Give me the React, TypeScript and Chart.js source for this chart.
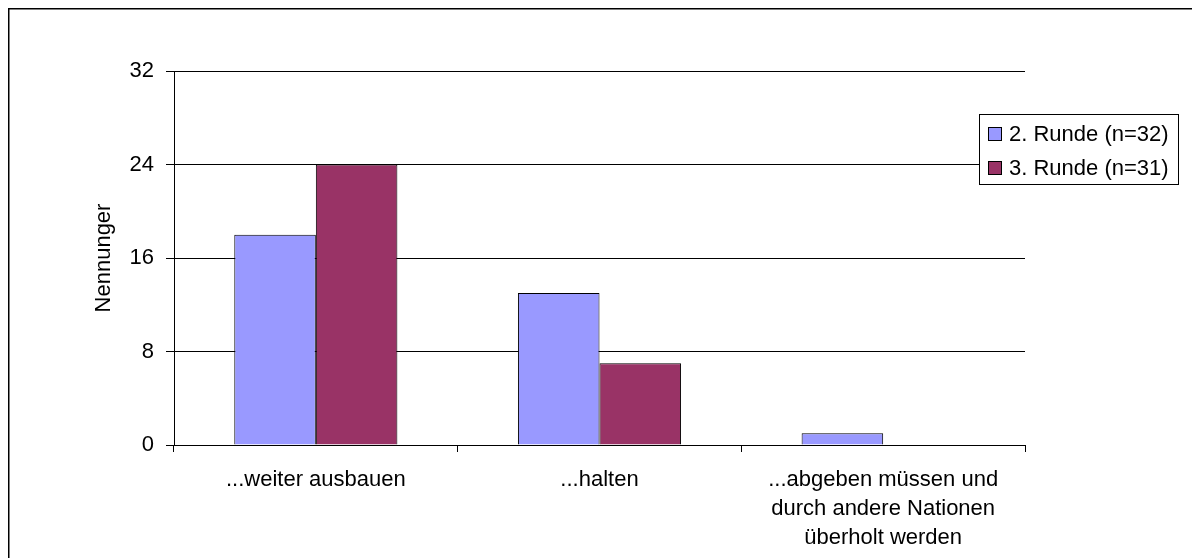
import React, { useEffect, useRef } from "react";
import { Chart, registerables } from "chart.js";

Chart.register(...registerables);

const categories: (string | string[])[] = [
  "...weiter ausbauen",
  "...halten",
  ["...abgeben müssen und", "durch andere Nationen", "überholt werden"],
];
const seriesNames = ["2. Runde (n=32)", "3. Runde (n=31)"];
const runde2 = [18, 13, 1];
const runde3 = [24, 7, 0];
const yTicks = [0, 8, 16, 24, 32];
const yTitle = "Nennunger";

const FONT = "'Liberation Sans', Arial, sans-serif";

const framePlugin = {
  id: "frame",
  afterDraw(chart: any) {
    const ctx = chart.ctx;
    const area = chart.chartArea;
    ctx.save();
    // outer frame (left/top visible)
    ctx.strokeStyle = "#000";
    ctx.lineWidth = 1.5;
    ctx.beginPath();
    ctx.moveTo(0.75, chart.height + 10);
    ctx.lineTo(0.75, 0.75);
    ctx.lineTo(chart.width + 10, 0.75);
    ctx.stroke();

    // legend box
    const lx = 971, ly = 106, lw = 199, lh = 70;
    // gridline at 24 extends to legend
    const y24 = Math.round(chart.scales.y.getPixelForValue(24)) + 0.5;
    ctx.lineWidth = 1;
    ctx.strokeStyle = "#333";
    ctx.beginPath();
    ctx.moveTo(area.right, y24);
    ctx.lineTo(lx, y24);
    ctx.stroke();

    ctx.fillStyle = "#fff";
    ctx.fillRect(lx, ly, lw, lh);
    ctx.strokeStyle = "#000";
    ctx.lineWidth = 1;
    ctx.strokeRect(lx + 0.5, ly + 0.5, lw, lh);

    ctx.font = `22px ${FONT}`;
    ctx.textBaseline = "middle";
    ctx.textAlign = "left";
    const rows = [126, 160];
    chart.data.datasets.forEach((ds: any, i: number) => {
      const cy = rows[i];
      ctx.fillStyle = ds.backgroundColor;
      ctx.fillRect(980, cy - 7, 14, 14);
      ctx.strokeStyle = "#000";
      ctx.strokeRect(980.5, cy - 6.5, 13, 13);
      ctx.fillStyle = "#000";
      ctx.fillText(ds.label, 1001, cy + 1);
    });
    ctx.restore();
  },
};

export default function App() {
  const ref = useRef<HTMLCanvasElement>(null);
  useEffect(() => {
    document.documentElement.style.overflow = "hidden";
    document.body.style.overflow = "hidden";
    const chart = new Chart(ref.current as HTMLCanvasElement, {
      type: "bar",
      data: {
        labels: categories,
        datasets: [
          {
            label: seriesNames[0],
            data: runde2,
            backgroundColor: "#9999FF",
            borderColor: "#000",
            borderWidth: 1,
          },
          {
            label: seriesNames[1],
            data: runde3,
            backgroundColor: "#993366",
            borderColor: "#000",
            borderWidth: 1,
          },
        ],
      },
      options: {
        responsive: false,
        animation: false,
        devicePixelRatio: 1,
        layout: { padding: { top: 63, right: 175, left: 0, bottom: 0 } },
        datasets: {
          bar: { categoryPercentage: 0.575, barPercentage: 1 },
        },
        plugins: {
          legend: { display: false },
          tooltip: { enabled: false },
        },
        scales: {
          x: {
            offset: true,
            grid: {
              offset: true,
              drawOnChartArea: false,
              drawTicks: true,
              tickLength: 7,
              color: "#000",
            },
            border: { display: true, color: "#000", width: 1 },
            ticks: {
              color: "#000",
              padding: 14,
              maxRotation: 0,
              autoSkip: false,
              font: { family: FONT, size: 22, lineHeight: 1.3 },
            },
            afterFit(scale: any) {
              scale.height = 113;
            },
          },
          y: {
            min: 0,
            max: 32,
            afterBuildTicks(scale: any) {
              scale.ticks = yTicks.map((v) => ({ value: v }));
            },
            grid: {
              color: "#000",
              lineWidth: 1,
              drawTicks: true,
              tickLength: 8,
            },
            border: { display: true, color: "#000", width: 1 },
            ticks: {
              color: "#000",
              padding: 12,
              font: { family: FONT, size: 22 },
            },
            title: {
              display: true,
              text: yTitle,
              color: "#000",
              padding: { top: 83, bottom: 0 },
              font: { family: FONT, size: 22, lineHeight: 1.2 },
            },
            afterFit(scale: any) {
              scale.width = 166;
            },
          },
        },
      },
      plugins: [framePlugin],
    });
    return () => chart.destroy();
  }, []);
  return (
    <canvas
      ref={ref}
      width={1192}
      height={550}
      style={{ display: "block", width: 1192, height: 550 }}
    />
  );
}
